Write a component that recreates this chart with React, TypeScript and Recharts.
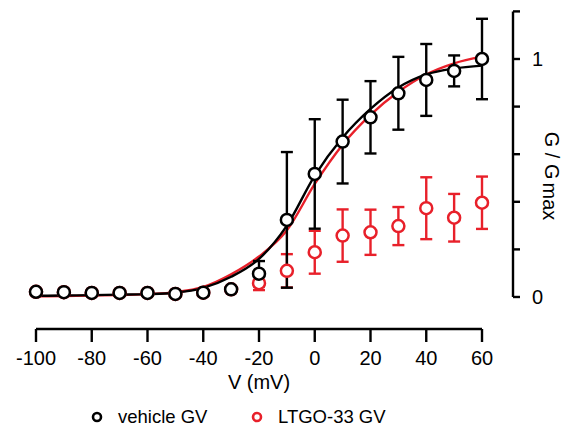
import React from "react";
import {
	ComposedChart,
	Line,
	Scatter,
	ErrorBar,
	XAxis,
	YAxis,
	ReferenceLine,
} from "recharts";

const FONT = '"Liberation Sans", Arial, Helvetica, sans-serif';
const BLACK = "#000000";
const RED = "#e8202a";

// measured points (mean ± sem), voltage in mV
const voltages = [-100, -90, -80, -70, -60, -50, -40, -30, -20, -10, 0, 10, 20, 30, 40, 50, 60];
const vehicleMean = [0.022, 0.02, 0.017, 0.017, 0.017, 0.013, 0.018, 0.032, 0.098, 0.324, 0.517, 0.653, 0.755, 0.856, 0.912, 0.95, 1.0];
const vehicleSem = [0, 0, 0, 0, 0, 0, 0, 0, 0.053, 0.285, 0.23, 0.176, 0.152, 0.153, 0.151, 0.065, 0.169];
const ltgoMean = [0.022, 0.02, 0.017, 0.017, 0.017, 0.013, 0.018, 0.032, 0.058, 0.11, 0.188, 0.258, 0.272, 0.298, 0.373, 0.333, 0.396];
const ltgoSem = [0, 0, 0, 0, 0, 0, 0, 0, 0.029, 0.07, 0.09, 0.11, 0.095, 0.08, 0.13, 0.1, 0.11];

// Boltzmann fit curves
const fitVoltages = [-100, -90, -80, -70, -60, -50, -40, -30, -20, -10, 0, 10, 20, 30, 40, 50, 60];
const vehicleFit = [0.005, 0.006, 0.008, 0.01, 0.012, 0.018, 0.038, 0.085, 0.16, 0.3, 0.51, 0.67, 0.79, 0.88, 0.935, 0.96, 0.972];
const ltgoFit = [0.003, 0.004, 0.006, 0.008, 0.012, 0.02, 0.042, 0.095, 0.17, 0.28, 0.475, 0.64, 0.765, 0.862, 0.935, 0.982, 1.01];

const xTicks = [-100, -80, -60, -40, -20, 0, 20, 40, 60];
const yTicks = [0, 0.2, 0.4, 0.6, 0.8, 1, 1.2];

// axes are offset from the data (Prism style)
const X_MIN = -100;
const X_MAX = 71.12;
const Y_MIN = -0.1345;
const Y_MAX = 1.2;

const toPoints = (xs: number[], ys: number[], errs?: number[]) =>
	xs.map((v, i) => ({ v, g: ys[i], err: errs ? errs[i] : 0 }));

const vehiclePoints = toPoints(voltages, vehicleMean, vehicleSem);
const ltgoPoints = toPoints(voltages, ltgoMean, ltgoSem);
const vehicleCurve = toPoints(fitVoltages, vehicleFit);
const ltgoCurve = toPoints(fitVoltages, ltgoFit);

const ringShape = (color: string) => (props: any) => (
	<circle
		cx={props.cx}
		cy={props.cy}
		r={6}
		fill="#fff"
		stroke={color}
		strokeWidth={2.5}
	/>
);

const XLabel = () => (
	<text x={259} y={389} textAnchor="middle" fontFamily={FONT} fontSize={20} fill={BLACK}>
		V (mV)
	</text>
);

const YLabel = () => (
	<text
		transform="translate(545, 176) rotate(90)"
		textAnchor="middle"
		fontFamily={FONT}
		fontSize={20}
		fill={BLACK}
	>
		G / G
		<tspan dx={3} dy={2}>
			max
		</tspan>
	</text>
);

const LegendItem = ({ color, label, left }: { color: string; label: string; left: number }) => (
	<div
		style={{
			position: "absolute",
			left,
			top: 405,
			height: 24,
			display: "flex",
			alignItems: "center",
			fontFamily: FONT,
			fontSize: 18.5,
			color: BLACK,
			whiteSpace: "nowrap",
		}}
	>
		<svg width={14} height={14} style={{ marginRight: 14 }}>
			<circle cx={7} cy={7} r={4} fill="none" stroke={color} strokeWidth={2.6} />
		</svg>
		{label}
	</div>
);

export default function App() {
	return (
		<div style={{ position: "absolute", left: 0, top: 0, width: 562, height: 430, background: "#fff" }}>
			<ComposedChart
				width={562}
				height={430}
				margin={{ top: 11.4, right: 0, bottom: 0, left: 36 }}
			>
				<XAxis
					type="number"
					dataKey="v"
					domain={[X_MIN, X_MAX]}
					ticks={xTicks}
					axisLine={false}
					tickLine={{ stroke: BLACK, strokeWidth: 2.4 }}
					tickSize={13}
					tickMargin={9}
					height={101}
					tick={{ fill: BLACK, fontSize: 20, fontFamily: FONT }}
					label={<XLabel />}
				/>
				<YAxis
					type="number"
					orientation="right"
					domain={[Y_MIN, Y_MAX]}
					ticks={yTicks}
					width={49}
					axisLine={false}
					tickLine={{ stroke: BLACK, strokeWidth: 2.4 }}
					tickSize={7}
					tickMargin={12}
					tickFormatter={(t: number) => (t === 0 ? "0" : t === 1 ? "1" : "")}
					tick={{ fill: BLACK, fontSize: 20, fontFamily: FONT }}
					label={<YLabel />}
				/>

				<ReferenceLine
					segment={[{ x: X_MIN, y: Y_MIN }, { x: 60, y: Y_MIN }]}
					stroke={BLACK}
					strokeWidth={2.4}
					ifOverflow="visible"
				/>
				<ReferenceLine
					segment={[{ x: X_MAX, y: 0 }, { x: X_MAX, y: Y_MAX }]}
					stroke={BLACK}
					strokeWidth={2.4}
					ifOverflow="visible"
				/>

				<Line
					data={ltgoCurve}
					dataKey="g"
					type="monotone"
					stroke={RED}
					strokeWidth={2.4}
					dot={false}
					activeDot={false}
					isAnimationActive={false}
				/>
				<Line
					data={vehicleCurve}
					dataKey="g"
					type="monotone"
					stroke={BLACK}
					strokeWidth={2.4}
					dot={false}
					activeDot={false}
					isAnimationActive={false}
				/>

				<Scatter
					data={ltgoPoints}
					dataKey="g"
					shape={ringShape(RED)}
					isAnimationActive={false}
				>
					<ErrorBar dataKey="err" direction="y" width={6} stroke={RED} strokeWidth={2.4} />
				</Scatter>
				<Scatter
					data={vehiclePoints}
					dataKey="g"
					shape={ringShape(BLACK)}
					isAnimationActive={false}
				>
					<ErrorBar dataKey="err" direction="y" width={6} stroke={BLACK} strokeWidth={2.4} />
				</Scatter>
			</ComposedChart>

			<LegendItem color={BLACK} label="vehicle GV" left={90} />
			<LegendItem color={RED} label="LTGO-33 GV" left={250} />
		</div>
	);
}
